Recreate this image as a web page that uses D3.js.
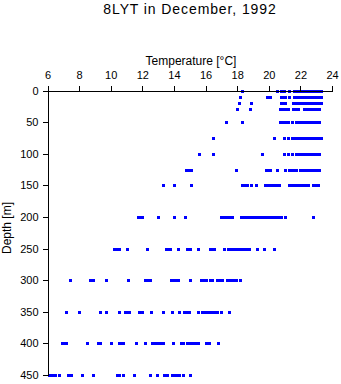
<!DOCTYPE html>
<html><head><meta charset="utf-8">
<script src="https://cdn.jsdelivr.net/npm/d3@7"></script>
<style>
body{margin:0;background:#fff;}
text{font-family:"Liberation Sans",Arial,Helvetica,sans-serif;}
</style></head>
<body><svg id="c" width="341" height="384"></svg>
<script>
const title = "8LYT in December, 1992";
const xLabel = "Temperature [°C]";
const yLabel = "Depth [m]";
const xTicks = [6, 8, 10, 12, 14, 16, 18, 20, 22, 24];
const yTicks = [0, 50, 100, 150, 200, 250, 300, 350, 400, 450];
const depths = [0, 10, 20, 30, 50, 75, 100, 125, 150, 200, 250, 300, 350, 400, 450];
const temperatures = [
  [18.3, 20.5, 20.8, 20.95, 21.3, 21.6, 21.7, 21.8, 21.9, 22.0, 22.1, 22.2, 22.3, 22.4, 22.5, 22.6, 22.7, 22.8, 22.9, 23.0, 23.1, 23.2, 23.3],
  [18.2, 19.9, 20.1, 20.75, 20.9, 21.0, 21.3, 21.6, 21.7, 21.8, 21.9, 22.0, 22.1, 22.2, 22.3, 22.4, 22.5, 22.6, 22.7, 22.8, 22.9, 23.0, 23.1, 23.2, 23.3],
  [18.1, 18.9, 20.75, 20.9, 21.05, 21.55, 21.65, 21.75, 21.85, 21.95, 22.05, 22.15, 22.25, 22.35, 22.45, 22.55, 22.65, 22.75, 22.85, 22.95, 23.05, 23.15, 23.25, 23.3],
  [18.0, 18.8, 20.7, 20.85, 21.0, 21.2, 21.55, 21.65, 21.75, 21.85, 22.25, 22.35, 22.45, 22.55, 22.65, 22.75, 22.85, 22.95, 23.05, 23.15, 23.2],
  [17.3, 18.3, 20.7, 20.85, 21.0, 21.2, 21.5, 21.75, 21.85, 21.95, 22.05, 22.15, 22.25, 22.35, 22.45, 22.55, 22.65, 22.75, 22.85, 22.95, 23.05, 23.15, 23.2],
  [16.5, 20.3, 20.95, 21.2, 21.45, 21.55, 21.65, 21.75, 21.85, 21.95, 22.05, 22.15, 22.25, 22.35, 22.45, 22.55, 22.65, 22.75, 22.85, 22.95, 23.05, 23.15, 23.25, 23.3],
  [15.6, 16.45, 19.6, 20.95, 21.2, 21.45, 21.75, 21.85, 21.95, 22.05, 22.15, 22.25, 22.35, 22.45, 22.55, 22.65, 22.75, 22.85, 22.95, 23.05, 23.15, 23.2],
  [14.75, 14.9, 15.05, 17.9, 19.8, 19.95, 20.1, 20.5, 21.0, 21.25, 21.4, 21.55, 21.75, 21.95, 22.05, 22.15, 22.25, 22.35, 22.45, 22.55, 22.65, 22.75, 22.85, 22.95, 23.05, 23.15, 23.2],
  [13.3, 14.0, 15.1, 18.3, 18.45, 18.6, 18.9, 19.2, 19.75, 19.85, 20.0, 20.15, 20.25, 20.45, 20.65, 21.25, 21.35, 21.45, 21.55, 21.65, 21.75, 21.85, 21.95, 22.05, 22.15, 22.3, 22.5, 22.8, 22.95, 23.1],
  [11.75, 11.9, 12.0, 13.0, 14.0, 14.7, 16.95, 17.05, 17.15, 17.25, 17.35, 17.5, 17.7, 18.25, 18.35, 18.45, 18.55, 18.65, 18.75, 18.85, 18.95, 19.05, 19.15, 19.25, 19.35, 19.45, 19.55, 19.65, 19.75, 19.85, 19.95, 20.1, 20.2, 20.35, 20.45, 20.6, 20.8, 21.0, 22.8],
  [10.2, 10.3, 10.45, 10.55, 11.0, 12.3, 13.5, 13.6, 13.75, 14.25, 14.85, 15.0, 15.5, 16.25, 16.4, 16.55, 17.15, 17.45, 17.6, 17.75, 17.95, 18.05, 18.15, 18.25, 18.35, 18.45, 18.55, 18.65, 18.75, 19.25, 19.7, 20.3],
  [7.4, 8.7, 8.85, 9.7, 11.1, 12.2, 12.35, 12.5, 13.8, 13.95, 14.1, 14.25, 15.0, 15.7, 15.85, 16.0, 16.25, 16.4, 16.75, 16.9, 17.05, 17.35, 17.5, 17.65, 17.8, 17.9, 18.2],
  [7.2, 8.0, 9.3, 9.7, 10.5, 10.9, 11.05, 11.15, 11.8, 11.9, 12.0, 12.55, 13.3, 13.9, 14.35, 14.65, 14.8, 14.95, 15.5, 15.75, 15.9, 16.05, 16.2, 16.4, 16.6, 16.7, 17.0, 17.5],
  [6.9, 7.05, 7.2, 8.5, 9.2, 9.35, 10.0, 10.5, 10.6, 10.75, 11.6, 12.15, 12.6, 12.75, 12.9, 13.1, 13.3, 13.95, 14.45, 14.6, 14.85, 15.0, 15.15, 15.3, 15.45, 15.55, 16.0, 16.2, 16.8],
  [6.1, 6.3, 6.5, 6.7, 7.3, 7.5, 8.2, 8.9, 10.4, 10.55, 10.75, 11.5, 12.5, 12.95, 13.4, 13.55, 13.85, 14.0, 14.15, 14.3, 14.6, 15.0]
];

const svg = d3.select("#c");
const x = d3.scaleLinear().domain([6, 24]).range([47.5, 332]);
const y = d3.scaleLinear().domain([0, 450]).range([90.5, 375]);

const points = [];
depths.forEach((d, i) => temperatures[i].forEach(t => points.push({t, d})));

svg.append("g").selectAll("rect").data(points).join("rect")
  .attr("x", p => Math.round(x(p.t)) - 1)
  .attr("y", p => Math.round(y(p.d)) - 1)
  .attr("width", 3).attr("height", 3)
  .attr("fill", "#0000ff").attr("shape-rendering", "crispEdges");

const xa = svg.append("g").attr("transform", "translate(0,90.5)")
  .call(d3.axisTop(x).tickValues(xTicks).tickFormat(d3.format("d")).tickSize(5).tickSizeOuter(0));
const ya = svg.append("g").attr("transform", "translate(47.5,0)")
  .call(d3.axisLeft(y).tickValues(yTicks).tickFormat(d3.format("d")).tickSize(5).tickSizeOuter(0));
[xa, ya].forEach(a => {
  a.selectAll("path,line").attr("stroke", "#000").attr("shape-rendering", "crispEdges");
  a.selectAll("text").attr("font-size", 11).attr("fill", "#000")
    .attr("font-family", "'Liberation Sans',Arial,sans-serif");
});
xa.selectAll("text").attr("dy", 0).attr("y", -12);
ya.selectAll("text").attr("x", -9);

svg.append("text").attr("x", 190).attr("y", 14).attr("text-anchor", "middle")
  .attr("font-size", 14).attr("letter-spacing", 0.9).text(title);
svg.append("text").attr("x", 191).attr("y", 65).attr("text-anchor", "middle")
  .attr("font-size", 12).text(xLabel);
svg.append("text").attr("transform", "translate(11,228) rotate(-90)").attr("text-anchor", "middle")
  .attr("font-size", 12).text(yLabel);
</script></body></html>
